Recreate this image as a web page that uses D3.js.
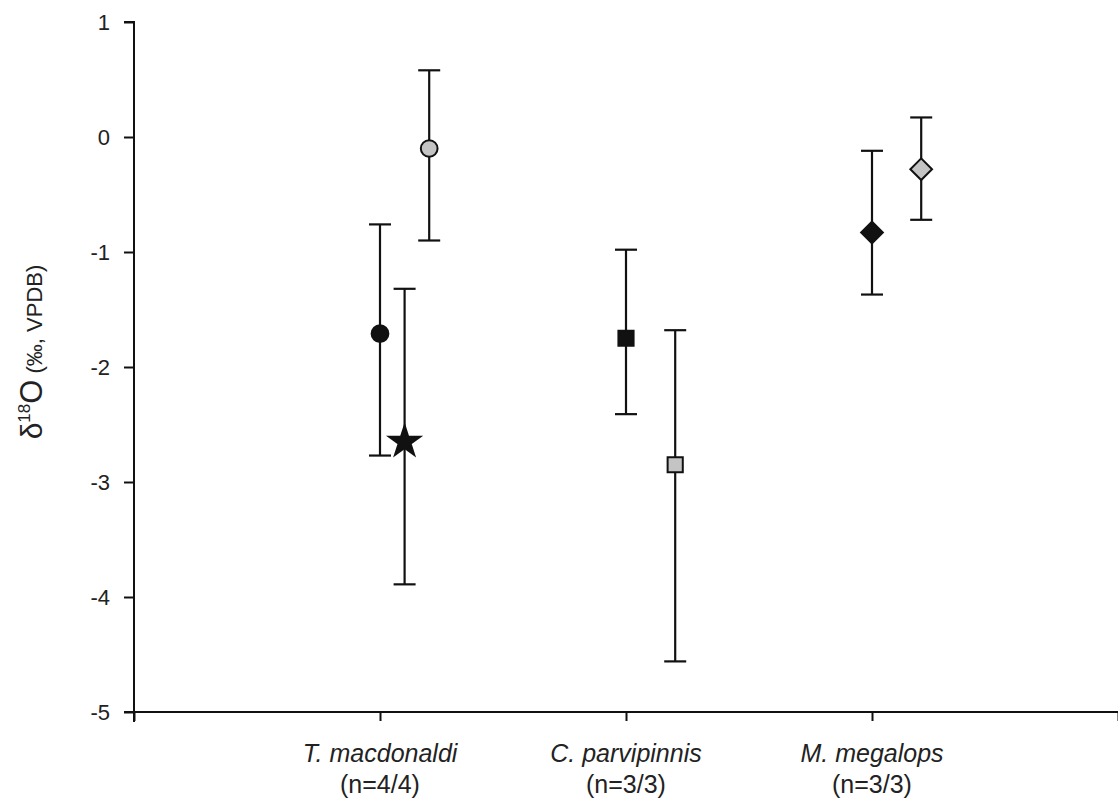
<!DOCTYPE html>
<html>
<head>
<meta charset="utf-8">
<script src="https://cdn.jsdelivr.net/npm/d3@7"></script>
<style>
  html, body { margin: 0; padding: 0; background: #fff; }
  svg { display: block; font-family: "Liberation Sans", Arial, sans-serif; }
</style>
</head>
<body>
<div id="chart"></div>
<script>
// Species on the x axis (italic name + sample count line)
const species   = ["T. macdonaldi", "C. parvipinnis", "M. megalops"];
const counts    = ["(n=4/4)", "(n=3/3)", "(n=3/3)"];

// One entry per point: which species, position in species group, mean and error range
const groupIdx  = [1, 1, 1, 2, 2, 3, 3];
const offsets   = [0, 0.1, 0.2, 0, 0.2, 0, 0.2];
const means     = [-1.71, -2.65, -0.10, -1.75, -2.85, -0.83, -0.28];
const lows      = [-2.77, -3.89, -0.90, -2.41, -4.56, -1.37, -0.72];
const highs     = [-0.76, -1.32, 0.58, -0.98, -1.68, -0.12, 0.17];
const shapes    = ["circle", "star", "circle", "square", "square", "diamond", "diamond"];
const fills     = ["black", "black", "grey", "black", "grey", "black", "grey"];

const yTicks    = [1, 0, -1, -2, -3, -4, -5];

const W = 1118, H = 800;
const margin = { top: 22, right: 0, bottom: 88, left: 134 };

const svg = d3.select("#chart").append("svg")
  .attr("width", W).attr("height", H);

const x = d3.scaleLinear().domain([0, 4]).range([margin.left, W - margin.right]);
const y = d3.scaleLinear().domain([-5, 1]).range([H - margin.bottom, margin.top]);

const FILL = { black: "#111", grey: "#c4c4c4" };
const SYM = {
  circle: d3.symbolCircle,
  star: d3.symbolStar,
  square: d3.symbolSquare,
  diamond: d3.symbolDiamond2
};
const SIZE = { circle: 220, star: 300, square: 230, diamond: 300 };

// Y axis — plain hyphen for negatives, like the original
svg.append("g")
  .attr("transform", `translate(${margin.left},0)`)
  .call(d3.axisLeft(y).tickValues(yTicks).tickSize(10).tickPadding(14).tickFormat(d => String(d)))
  .call(g => g.select(".domain").attr("stroke", "#111").attr("stroke-width", 2)
    .attr("d", `M-10,${y(1)}H0V${y(-5) + 10}`))
  .call(g => g.selectAll(".tick line").attr("stroke", "#111").attr("stroke-width", 2))
  .call(g => g.selectAll(".tick text").attr("font-size", 22).attr("fill", "#222")
    .attr("font-family", "'Liberation Sans', Arial, sans-serif"));

// X axis
svg.append("g")
  .attr("transform", `translate(0,${y(-5)})`)
  .call(d3.axisBottom(x).tickValues([0, 1, 2, 3, 4]).tickSize(9).tickFormat(""))
  .call(g => g.select(".domain").attr("stroke", "#111").attr("stroke-width", 2)
    .attr("d", `M${x(0) - 10},0H${x(4)}`))
  .call(g => g.selectAll(".tick line").attr("stroke", "#111").attr("stroke-width", 2));

// Category labels
species.forEach((s, i) => {
  const t = svg.append("text")
    .attr("x", x(i + 1)).attr("y", y(-5) + 50)
    .attr("text-anchor", "middle").attr("font-size", 25).attr("fill", "#222");
  t.append("tspan").attr("font-style", "italic").text(s);
  t.append("tspan").attr("x", x(i + 1)).attr("dy", 31).text(counts[i]);
});

// Y axis title: δ18O (‰, VPDB)
const yt = svg.append("text")
  .attr("transform", `translate(42,${(y(1) + y(-5)) / 2 - 15}) rotate(-90)`)
  .attr("text-anchor", "middle").attr("fill", "#222");
yt.append("tspan").attr("font-size", 30).text("δ");
yt.append("tspan").attr("font-size", 17).attr("dy", -12).text("18");
yt.append("tspan").attr("font-size", 31).attr("dy", 12).text("O");
yt.append("tspan").attr("font-size", 22).text(" (‰, VPDB)");

// Error bars
const pts = means.map((m, i) => ({
  xv: groupIdx[i] + offsets[i], m, lo: lows[i], hi: highs[i], shape: shapes[i], fill: fills[i]
}));

const cap = 11;
const eb = svg.append("g").attr("stroke", "#111").attr("stroke-width", 2.2);
pts.forEach(d => {
  const cx = x(d.xv);
  eb.append("line").attr("x1", cx).attr("x2", cx).attr("y1", y(d.hi)).attr("y2", y(d.lo));
  eb.append("line").attr("x1", cx - cap).attr("x2", cx + cap).attr("y1", y(d.hi)).attr("y2", y(d.hi));
  eb.append("line").attr("x1", cx - cap).attr("x2", cx + cap).attr("y1", y(d.lo)).attr("y2", y(d.lo));
});

// Markers
svg.append("g").selectAll("path")
  .data(pts)
  .join("path")
  .attr("transform", d => `translate(${x(d.xv)},${y(d.m)})`)
  .attr("d", d => d3.symbol(SYM[d.shape], SIZE[d.shape])())
  .attr("fill", d => FILL[d.fill])
  .attr("stroke", "#111")
  .attr("stroke-width", 2);
</script>
</body>
</html>
